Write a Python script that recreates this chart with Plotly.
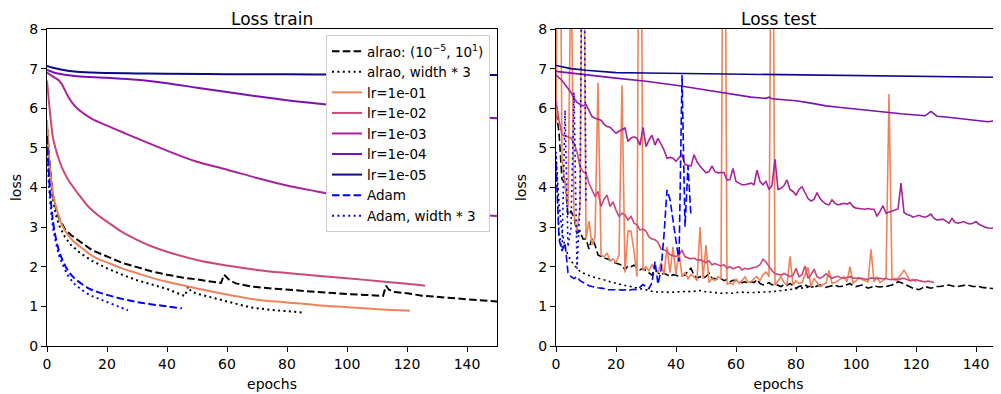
import plotly.graph_objects as go

# ---------------- TRAIN (left) ----------------
tr_lr5_x = [0, 2, 5, 10, 15, 20, 30, 40, 60, 80, 100, 120, 150]
tr_lr5_y = [7.07, 7.02, 6.97, 6.92, 6.90, 6.89, 6.88, 6.87, 6.86, 6.855, 6.85, 6.845, 6.84]

tr_lr4_x = [0, 4, 10, 20, 30, 40, 50, 60, 70, 80, 90, 100, 110, 120, 130, 140, 150]
tr_lr4_y = [6.97, 6.87, 6.81, 6.77, 6.72, 6.63, 6.52, 6.41, 6.30, 6.20, 6.12, 6.05, 5.97, 5.90, 5.84, 5.79, 5.75]

tr_lr3_x = [0, 2, 4, 5, 6, 7, 8, 10, 12, 15, 20, 25, 30, 40, 50, 60, 70, 80, 90, 100, 110, 120, 130, 140, 150]
tr_lr3_y = [6.90, 6.80, 6.70, 6.60, 6.45, 6.30, 6.18, 6.00, 5.88, 5.73, 5.56, 5.40, 5.24, 4.93, 4.65, 4.45,
            4.24, 4.05, 3.90, 3.76, 3.63, 3.52, 3.42, 3.34, 3.28]

tr_lr2_x = [0, 1, 2, 3, 4, 5, 7, 9, 11, 14, 17, 20, 25, 30, 35, 40, 50, 60, 70, 80, 90, 100, 110, 120, 126]
tr_lr2_y = [6.70, 5.90, 5.25, 4.95, 4.70, 4.50, 4.20, 3.98, 3.78, 3.50, 3.30, 3.14, 2.88, 2.68, 2.51, 2.38,
            2.17, 2.03, 1.92, 1.84, 1.77, 1.71, 1.64, 1.57, 1.52]

tr_lr1_x = [0, 1, 2, 3, 4, 5, 7, 9, 11, 14, 17, 20, 25, 30, 35, 40, 50, 60, 70, 80, 90, 100, 110, 121]
tr_lr1_y = [5.70, 4.45, 3.86, 3.50, 3.27, 3.05, 2.80, 2.63, 2.51, 2.33, 2.20, 2.11, 1.96, 1.84, 1.72, 1.62,
            1.45, 1.30, 1.17, 1.10, 1.03, 0.98, 0.93, 0.89]

tr_alrao_x = [0, 1, 2, 3, 4, 6, 8, 11, 15, 20, 25, 30, 35, 40, 45, 50, 55, 58, 59, 60, 61, 63, 68, 75, 80, 90,
              100, 106, 112, 113, 114, 116, 120, 125, 130, 140, 150]
tr_alrao_y = [5.50, 4.50, 3.80, 3.45, 3.23, 2.95, 2.80, 2.64, 2.42, 2.26, 2.10, 1.99, 1.88, 1.80, 1.73, 1.68,
              1.62, 1.59, 1.80, 1.72, 1.65, 1.58, 1.50, 1.45, 1.42, 1.36, 1.31, 1.29, 1.26, 1.52, 1.42, 1.36,
              1.33, 1.27, 1.24, 1.17, 1.12]

tr_alrao3_x = [0, 1, 2, 3, 4, 6, 8, 11, 15, 20, 25, 30, 35, 40, 44, 46, 47, 48, 50, 55, 60, 68, 75, 80, 86]
tr_alrao3_y = [5.60, 4.30, 3.70, 3.30, 3.05, 2.75, 2.55, 2.35, 2.15, 1.96, 1.80, 1.66, 1.55, 1.44, 1.32, 1.26,
               1.50, 1.38, 1.32, 1.22, 1.12, 0.97, 0.91, 0.87, 0.84]

tr_adam_x = [0, 1, 2, 3, 4, 5, 7, 9, 11, 14, 17, 20, 25, 30, 35, 40, 45]
tr_adam_y = [5.30, 3.90, 3.15, 2.70, 2.40, 2.20, 1.90, 1.72, 1.60, 1.45, 1.36, 1.29, 1.19, 1.11, 1.05, 1.00, 0.95]

tr_adam3_x = [0, 1, 2, 3, 4, 5, 7, 9, 11, 14, 17, 20, 24, 27]
tr_adam3_y = [5.00, 3.70, 3.00, 2.60, 2.30, 2.10, 1.78, 1.58, 1.45, 1.30, 1.20, 1.11, 0.99, 0.90]

# ---------------- TEST (right) ----------------
te_lr5_x = [0, 5, 10, 20, 30, 40, 60, 80, 100, 120, 148]
te_lr5_y = [7.08, 7.00, 6.96, 6.90, 6.89, 6.88, 6.86, 6.84, 6.82, 6.80, 6.78]

te_lr4_x = [0, 10, 20, 30, 40, 50, 60, 65, 70, 71, 72, 75, 78, 80, 85, 90, 95, 100, 105, 110, 115, 120,
            123, 125, 127, 130, 135, 140, 144, 146, 147, 148]
te_lr4_y = [6.93, 6.84, 6.76, 6.68, 6.58, 6.46, 6.33, 6.28, 6.25, 6.28, 6.24, 6.22, 6.21, 6.19, 6.13, 6.06,
            6.02, 5.98, 5.93, 5.89, 5.86, 5.83, 5.81, 5.92, 5.80, 5.78, 5.74, 5.71, 5.66, 5.68, 5.77, 5.63]

te_lr3_y = [6.84, 6.78, 6.70, 6.60, 6.50, 6.40, 6.25, 6.15, 6.10, 6.06, 6.10, 5.95, 5.79, 5.75, 5.72, 5.70,
            5.60, 5.54, 5.52, 5.45, 5.37, 5.42, 5.45, 5.50, 5.16, 5.25, 5.28, 5.24, 5.07, 5.52, 5.03, 5.20,
            5.32, 5.07, 5.24, 5.10, 4.95, 4.74, 4.76, 4.74, 4.66, 4.75, 4.83, 4.58, 4.56, 4.54, 4.83, 4.65,
            4.54, 4.45, 4.37, 4.40, 4.54, 4.40, 4.37, 4.38, 4.38, 4.19, 4.20, 4.48, 4.15, 4.11, 4.07, 4.07,
            4.10, 4.11, 4.07, 4.44, 4.15, 4.07, 4.15, 3.95, 4.05, 4.71, 3.95, 3.98, 4.05, 4.19, 3.95, 3.90,
            3.81, 3.95, 4.02, 3.85, 3.72, 3.66, 3.70, 3.87, 3.72, 3.64, 3.58, 3.56, 3.69, 3.60, 3.56, 3.58,
            3.60, 3.58, 3.62, 3.52, 3.48, 3.47, 3.46, 3.45, 3.47, 3.45, 3.45, 3.27, 3.40, 3.54, 3.35, 3.38,
            3.40, 3.45, 3.46, 4.11, 3.37, 3.32, 3.30, 3.25, 3.28, 3.30, 3.27, 3.25, 3.28, 3.33, 3.22, 3.18,
            3.19, 3.20, 3.15, 3.10, 3.22, 3.12, 3.10, 3.13, 3.14, 3.10, 3.08, 3.10, 3.14, 3.07, 3.03, 3.00,
            2.98, 2.97, 2.98, 3.01, 2.97]

te_lr2_y = [6.20, 5.70, 5.33, 5.30, 5.29, 5.25, 5.12, 4.90, 4.53, 4.40, 4.36, 4.10, 3.94, 3.77, 3.90, 3.52,
            3.70, 3.81, 3.52, 3.64, 3.43, 3.27, 3.35, 3.31, 3.18, 3.27, 3.10, 3.06, 2.93, 2.95, 2.90, 2.75,
            2.70, 2.68, 2.62, 2.45, 2.42, 2.40, 2.30, 2.28, 2.26, 2.30, 2.42, 2.25, 2.22, 2.20, 2.22, 2.17,
            2.18, 2.13, 2.10, 2.15, 2.05, 2.08, 2.04, 2.02, 2.05, 1.97, 2.00, 1.95, 1.98, 2.00, 1.92, 1.96,
            1.94, 1.96, 1.98, 2.00, 2.05, 2.19, 2.12, 2.00, 1.90, 1.83, 1.80, 1.79, 1.83, 1.80, 1.75, 1.78,
            1.96, 1.75, 1.80, 2.02, 1.71, 1.80, 1.94, 1.75, 1.71, 1.75, 1.82, 1.76, 1.71, 1.74, 1.76, 1.72,
            1.71, 1.73, 1.75, 1.72, 1.71, 1.72, 1.71, 1.70, 1.68, 1.72, 1.71, 1.70, 1.71, 1.69, 1.71, 1.68,
            1.68, 1.67, 1.67, 1.70, 1.71, 1.68, 1.65, 1.66, 1.67, 1.65, 1.63, 1.62, 1.64, 1.61, 1.60]

te_lr1_y = [5.60, 16.0, 4.70, 4.10, 3.50, 10.0, 3.30, 2.90, 3.50, 14.0, 2.70, 3.15, 2.55, 2.75, 6.65, 2.30,
            2.25, 2.35, 2.15, 2.20, 2.10, 2.30, 6.58, 1.85, 2.90, 2.90, 2.40, 1.75, 18.0, 1.90, 2.00, 1.90,
            2.05, 1.95, 1.85, 2.10, 1.80, 2.50, 1.85, 2.50, 1.80, 2.40, 1.75, 1.85, 1.70, 1.80, 1.75, 1.65,
            3.00, 1.70, 2.55, 1.60, 1.70, 1.65, 1.75, 1.70, 17.0, 1.55, 1.60, 1.55, 1.70, 1.58, 1.65, 1.75,
            1.60, 1.62, 1.70, 1.75, 1.65, 1.80, 1.87, 1.75, 16.0, 1.54, 1.65, 1.75, 1.60, 1.54, 2.26, 1.54,
            1.65, 1.58, 1.60, 1.79, 1.99, 1.50, 1.71, 1.60, 1.50, 1.55, 1.58, 1.91, 1.58, 1.60, 1.65, 1.70,
            1.75, 1.62, 2.00, 1.58, 1.65, 1.71, 1.68, 1.65, 1.62, 2.44, 1.62, 1.75, 1.60, 1.65, 1.71, 6.36,
            1.68, 1.70, 1.71, 1.80, 1.91, 1.79, 1.65, 1.68, 1.62]

te_alrao_y = [5.90, 5.40, 4.20, 4.15, 3.30, 3.40, 3.25, 2.85, 2.90, 2.70, 2.70, 2.45, 2.72, 2.55, 2.30, 2.25,
              2.22, 2.20, 2.17, 2.12, 2.09, 2.06, 2.04, 1.92, 2.02, 2.00, 2.04, 1.98, 1.92, 1.96, 1.90, 1.85,
              1.79, 1.95, 1.85, 1.79, 1.84, 1.80, 1.75, 1.80, 1.79, 1.75, 1.78, 1.79, 1.90, 1.96, 1.79, 1.71,
              1.75, 1.72, 1.75, 1.84, 1.71, 1.70, 1.67, 1.70, 1.65, 1.68, 1.62, 1.66, 1.65, 1.62, 1.60, 1.62,
              1.58, 1.62, 1.60, 1.68, 1.58, 1.54, 1.56, 1.60, 1.54, 1.56, 1.52, 1.50, 1.55, 1.53, 1.58, 1.52,
              1.46, 1.50, 1.52, 1.54, 1.50, 1.50, 1.48, 1.52, 1.54, 1.50, 1.48, 1.50, 1.52, 1.54, 1.50, 1.50,
              1.52, 1.55, 1.58, 1.52, 1.50, 1.52, 1.54, 1.50, 1.46, 1.48, 1.52, 1.50, 1.49, 1.50, 1.50, 1.52,
              1.54, 1.58, 1.62, 1.60, 1.56, 1.53, 1.50, 1.46, 1.44, 1.42, 1.46, 1.50, 1.48, 1.46, 1.48, 1.50,
              1.50, 1.52, 1.53, 1.54, 1.52, 1.50, 1.50, 1.52, 1.53, 1.54, 1.52, 1.50, 1.50, 1.50, 1.48, 1.47,
              1.46, 1.45, 1.44, 1.44, 1.43]

te_alrao3_y = [4.80, 3.60, 2.90, 2.50, 2.30, 2.15, 2.05, 1.95, 1.88, 1.84, 1.80, 1.78, 1.75, 1.73, 1.71, 1.70,
               1.67, 1.65, 1.62, 1.60, 1.58, 1.56, 1.55, 1.53, 1.51, 1.50, 1.48, 1.46, 1.44, 1.43, 1.42, 1.40,
               1.38, 1.36, 1.37, 1.37, 1.36, 1.36, 1.35, 1.36, 1.36, 1.37, 1.37, 1.38, 1.38, 1.37, 1.38, 1.39,
               1.40, 1.38, 1.37, 1.36, 1.35, 1.34, 1.33, 1.33, 1.34, 1.34, 1.33, 1.33, 1.35, 1.36, 1.36, 1.35,
               1.35, 1.34, 1.35, 1.35, 1.36, 1.36, 1.37, 1.37, 1.37, 1.38, 1.39, 1.40, 1.40, 1.41, 1.42, 1.44,
               1.45, 1.46, 1.47, 1.48, 1.48, 1.49, 1.50]

te_adam_y = [4.60, 2.70, 2.40, 2.60, 1.85, 1.75, 1.70, 1.75, 1.65, 1.60, 1.55, 1.52, 1.50, 1.48, 1.47, 1.46,
             1.45, 1.42, 1.42, 1.43, 1.42, 1.42, 1.41, 1.42, 1.40, 1.41, 1.43, 1.42, 1.48, 1.55, 1.50, 1.45,
             1.60, 2.13, 1.56, 1.92, 2.80, 3.94, 3.70, 3.20, 2.60, 2.13, 6.84, 3.01, 4.54, 3.26]

te_adam3_y = [4.90, 2.90, 2.40, 5.95, 2.50, 3.00, 6.40, 1.95, 3.60, 14.0, 3.60]

# ---------------- styles ----------------
C_LR1, C_LR2, C_LR3, C_LR4, C_LR5 = "#f0825a", "#cc4778", "#a8229a", "#7b12b0", "#0d0887"
FONT = "DejaVu Sans"
DASH = "7.5px,3.3px"
DOT = "2px,3.4px"

series = [
    ("alrao: (10<sup>\u22125</sup>, 10<sup>1</sup>)", "black", DASH,
     tr_alrao_x, tr_alrao_y, te_alrao_y, "linear"),
    ("alrao, width * 3", "black", DOT, tr_alrao3_x, tr_alrao3_y, te_alrao3_y, "linear"),
    ("lr=1e-01", C_LR1, "solid", tr_lr1_x, tr_lr1_y, te_lr1_y, "spline"),
    ("lr=1e-02", C_LR2, "solid", tr_lr2_x, tr_lr2_y, te_lr2_y, "spline"),
    ("lr=1e-03", C_LR3, "solid", tr_lr3_x, tr_lr3_y, te_lr3_y, "spline"),
    ("lr=1e-04", C_LR4, "solid", tr_lr4_x, tr_lr4_y, (te_lr4_x, te_lr4_y), "spline"),
    ("lr=1e-05", C_LR5, "solid", tr_lr5_x, tr_lr5_y, (te_lr5_x, te_lr5_y), "spline"),
    ("Adam", "blue", DASH, tr_adam_x, tr_adam_y, te_adam_y, "spline"),
    ("Adam, width * 3", "blue", DOT, tr_adam3_x, tr_adam3_y, te_adam3_y, "spline"),
]

fig = go.Figure()
for name, col, dash, tx, ty, te, shp in series:
    fig.add_trace(go.Scatter(x=tx, y=ty, mode="lines", name=name,
                             line=dict(color=col, width=2, dash=dash, shape=shp),
                             xaxis="x", yaxis="y"))
for name, col, dash, tx, ty, te, shp in series:
    if isinstance(te, tuple):
        ex, ey = te
    else:
        ey = te
        ex = list(range(len(ey)))
    fig.add_trace(go.Scatter(x=ex, y=ey, mode="lines", name=name, showlegend=False,
                             line=dict(color=col, width=1.6, dash=dash),
                             xaxis="x2", yaxis="y2"))

# page body has an 8px margin: figure origin sits at (8, 8) of the window
W, H = 993, 386
ML, MR, MT, MB = 39, 0, 21, 48
PW = W - ML - MR
PH = H - MT - MB
left_dom = [0, 450 / PW]
right_dom = [(548 - ML) / PW, 1.0]

axis_common = dict(showline=True, linecolor="black", linewidth=1.1, ticks="outside", ticklen=5,
                   tickcolor="black", tickwidth=1.1, showgrid=False, zeroline=False,
                   tickfont=dict(family=FONT, size=14, color="black"),
                   title_font=dict(family=FONT, size=14, color="black"), automargin=False)

fig.update_layout(
    width=W, height=H, margin=dict(l=ML, r=MR, t=MT, b=MB),
    paper_bgcolor="white", plot_bgcolor="white",
    font=dict(family=FONT, size=14, color="black"),
    xaxis=dict(domain=left_dom, range=[0, 150], tickvals=[0, 20, 40, 60, 80, 100, 120, 140],
               mirror=True, title=dict(text="epochs", standoff=8), anchor="y", **axis_common),
    yaxis=dict(domain=[0, 1], range=[0, 8], tickvals=list(range(9)), mirror=True,
               title=dict(text="loss", standoff=8), anchor="x", **axis_common),
    xaxis2=dict(domain=right_dom, range=[0, (1001 - 556) / 3], tickvals=[0, 20, 40, 60, 80, 100, 120, 140],
                mirror=True, title=dict(text="epochs", standoff=8), anchor="y2", **axis_common),
    yaxis2=dict(domain=[0, 1], range=[0, 8], tickvals=list(range(9)), mirror=False,
                title=dict(text="loss", standoff=8), anchor="x2", **axis_common),
    legend=dict(x=(482 - ML) / PW, xanchor="right", y=1 - (27 - MT) / PH, yanchor="top",
                bgcolor="white", bordercolor="#cccccc", borderwidth=1,
                font=dict(family=FONT, size=13.5, color="black"), tracegroupgap=0),
    showlegend=True,
    annotations=[
        dict(text="Loss train", xref="x domain", yref="paper", x=0.5, y=1.0, yanchor="bottom",
             yshift=-2, showarrow=False, font=dict(family=FONT, size=17, color="black")),
        dict(text="Loss test", xref="x2 domain", yref="paper", x=0.5, y=1.0, yanchor="bottom",
             yshift=-2, showarrow=False, font=dict(family=FONT, size=17, color="black")),
    ],
)

fig.write_html("out.html")
